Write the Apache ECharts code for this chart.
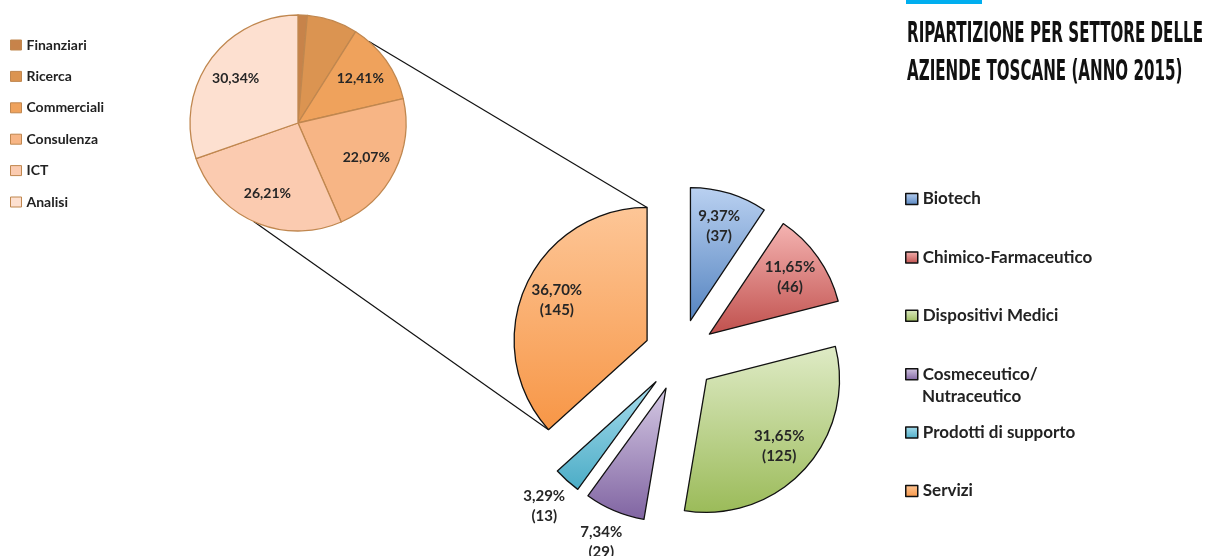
<!DOCTYPE html>
<html>
<head>
<meta charset="utf-8">
<title>Ripartizione per settore delle aziende toscane</title>
<script src="https://cdn.jsdelivr.net/npm/echarts@6/dist/echarts.min.js"></script>
<style>
html, body { margin: 0; padding: 0; background: #fff; }
#chart-show { width: 1206px; height: 556px; }
</style>
</head>
<body>
<div id="chart-show"></div>
<script>
// settori - numero di aziende (torta grande)
var sectors = ['Biotech', 'Chimico-Farmaceutico', 'Dispositivi Medici', 'Cosmeceutico/Nutraceutico', 'Prodotti di supporto', 'Servizi'];
var sectorCounts = [37, 46, 125, 29, 13, 145];
var sectorPctLabels = ['9,37%', '11,65%', '31,65%', '7,34%', '3,29%', '36,70%'];
var sectorColors = [
    ['#bad1f1', '#5584c0'],
    ['#f5b4b2', '#c0504d'],
    ['#dfebc6', '#9bbb59'],
    ['#d5c9e4', '#8064a2'],
    ['#a8dded', '#4bacc6'],
    ['#fdc697', '#f79646']
];
var sectorLabelOutside = [false, false, false, true, true, false];

// dettaglio dei servizi (torta piccola), in %
var services = ['Finanziari', 'Ricerca', 'Commerciali', 'Consulenza', 'ICT', 'Analisi'];
var servicesPct = [1.38, 7.59, 12.41, 22.07, 26.21, 30.34];
var servicesColors = ['#c7834a', '#db9451', '#efa25c', '#f7b585', '#fbcbb0', '#fde0d0'];
var servicesLabelled = [false, false, true, true, true, true];

var titleLines = ['RIPARTIZIONE PER SETTORE DELLE', 'AZIENDE TOSCANE (ANNO 2015)'];

// layout
var bigCenter = [680, 355], bigR = 133, explode = 36;
var smallCenter = [298, 123], smallR = 108;
var font = 'Lato, "Open Sans", sans-serif';

window.onload = all;
function all() {
    myPieChart();
}

function polar(c, r, deg) {
    var a = deg * Math.PI / 180;
    return [c[0] + r * Math.sin(a), c[1] - r * Math.cos(a)];
}

function myPieChart() {
    var chart = echarts.init(document.getElementById('chart-show'));

    var bigData = function (withLabel) {
        return sectors.map(function (name, i) {
            var c = sectorColors[i];
            var item = { name: name, value: sectorCounts[i], selected: true };
            if (withLabel === null) {
                item.itemStyle = {
                    color: new echarts.graphic.LinearGradient(0, 0, 0, 1, [
                        { offset: 0, color: c[0] }, { offset: 1, color: c[1] }
                    ])
                };
            } else {
                item.label = { show: sectorLabelOutside[i] === withLabel };
            }
            return item;
        });
    };

    var bigLabel = {
        show: true,
        position: 'inside',
        fontFamily: font,
        fontSize: 15,
        fontWeight: 'bold',
        lineHeight: 20,
        color: '#262626',
        formatter: function (p) {
            return sectorPctLabels[p.dataIndex] + '\n(' + p.value + ')';
        }
    };

    var overlay = {
        type: 'pie',
        silent: true,
        selectedMode: 'multiple',
        selectedOffset: explode,
        center: bigCenter,
        avoidLabelOverlap: false,
        itemStyle: { color: 'transparent', borderWidth: 0 },
        labelLine: { show: false },
        label: bigLabel
    };

    // linee di collegamento tra la fetta Servizi e la torta piccola
    var total = sectorCounts.reduce(function (a, b) { return a + b; }, 0);
    var before = sectorCounts.slice(0, 5).reduce(function (a, b) { return a + b; }, 0);
    var a0 = before / total * 360, a1 = 360;
    var apex = polar(bigCenter, explode, (a0 + a1) / 2);
    var srvTop = polar(apex, bigR, a1), srvBottom = polar(apex, bigR, a0);
    var link1 = polar(smallCenter, smallR, 40.8), link2 = polar(smallCenter, smallR, 204.4);

    // titolo: font condensato adattato in larghezza
    var titleFont = 'bold 29px "Liberation Sans Narrow", "DejaVu Sans Condensed", sans-serif';
    var ctx = document.createElement('canvas').getContext('2d');
    ctx.font = titleFont;
    var titleScale = 296 / ctx.measureText(titleLines[0]).width;

    var legendText = { fontFamily: font, fontSize: 17, fontWeight: 'bold', color: '#222', lineHeight: 18 };

    var option = {
        animation: false,
        backgroundColor: '#fff',
        legend: [{
            data: services,
            orient: 'vertical',
            left: 10,
            top: 38,
            padding: 0,
            icon: 'rect',
            itemWidth: 11,
            itemHeight: 10,
            itemGap: 17.4,
            selectedMode: false,
            itemStyle: { borderWidth: 1 },
            textStyle: { fontFamily: font, fontSize: 14, fontWeight: 'bold', color: '#222', lineHeight: 14 }
        }, {
            data: sectors,
            orient: 'vertical',
            left: 905,
            top: 190,
            padding: 0,
            icon: 'rect',
            itemWidth: 12,
            itemHeight: 11,
            itemGap: 40.4,
            selectedMode: false,
            // la seconda riga di "Cosmeceutico/Nutraceutico" va sotto, come testo a parte
            formatter: function (name) { return name.split('/')[0] + (name.indexOf('/') >= 0 ? '/' : ''); },
            itemStyle: { borderColor: '#111', borderWidth: 1.5 },
            textStyle: legendText
        }],
        graphic: [
            { type: 'rect', left: 906, top: 0, shape: { width: 76, height: 4 }, style: { fill: '#00aeef' } },
            {
                type: 'text', x: 907, y: 34.5, scaleX: titleScale,
                style: { text: titleLines[0], font: titleFont, fill: '#111', verticalAlign: 'middle' }
            },
            {
                type: 'text', x: 907, y: 72.5, scaleX: titleScale,
                style: { text: titleLines[1], font: titleFont, fill: '#111', verticalAlign: 'middle' }
            },
            {
                type: 'text', x: 922, y: 397,
                style: {
                    text: sectors[3].split('/')[1],
                    font: 'bold 17px ' + font, fill: '#222', verticalAlign: 'middle'
                }
            },
            {
                type: 'line', z: -1,
                shape: { x1: link1[0], y1: link1[1], x2: srvTop[0], y2: srvTop[1] },
                style: { stroke: '#111', lineWidth: 1.2 }
            },
            {
                type: 'line', z: -1,
                shape: { x1: link2[0], y1: link2[1], x2: srvBottom[0], y2: srvBottom[1] },
                style: { stroke: '#111', lineWidth: 1.2 }
            }
        ],
        series: [{
            type: 'pie',
            name: 'settori',
            center: bigCenter,
            radius: bigR,
            selectedMode: 'multiple',
            selectedOffset: explode,
            label: { show: false },
            labelLine: { show: false },
            itemStyle: { borderColor: '#111', borderWidth: 1.3 },
            emphasis: { disabled: true },
            data: bigData(null)
        },
        echarts.util.merge({ radius: [bigR * 0.44, bigR], data: bigData(false) }, overlay),
        echarts.util.merge({ radius: [bigR, bigR * 1.47], data: bigData(true) }, overlay),
        {
            type: 'pie',
            name: 'servizi',
            center: smallCenter,
            radius: smallR,
            label: { show: false },
            labelLine: { show: false },
            itemStyle: { borderColor: '#c0874f', borderWidth: 1.3 },
            emphasis: { disabled: true },
            data: services.map(function (name, i) {
                return { name: name, value: servicesPct[i], itemStyle: { color: servicesColors[i] } };
            })
        }, {
            type: 'pie',
            silent: true,
            center: smallCenter,
            radius: [smallR * 0.36, smallR],
            avoidLabelOverlap: false,
            itemStyle: { color: 'transparent', borderWidth: 0 },
            labelLine: { show: false },
            label: {
                show: true,
                position: 'inside',
                fontFamily: font,
                fontSize: 14,
                fontWeight: 'bold',
                color: '#262626',
                formatter: function (p) {
                    return servicesPct[p.dataIndex].toFixed(2).replace('.', ',') + '%';
                }
            },
            data: services.map(function (name, i) {
                return { name: name, value: servicesPct[i], label: { show: servicesLabelled[i] } };
            })
        }]
    };

    chart.setOption(option);
    setTimeout(function () {
        window.onresize = function () {
            chart.resize();
        };
    }, 200);
}
</script>
</body>
</html>
